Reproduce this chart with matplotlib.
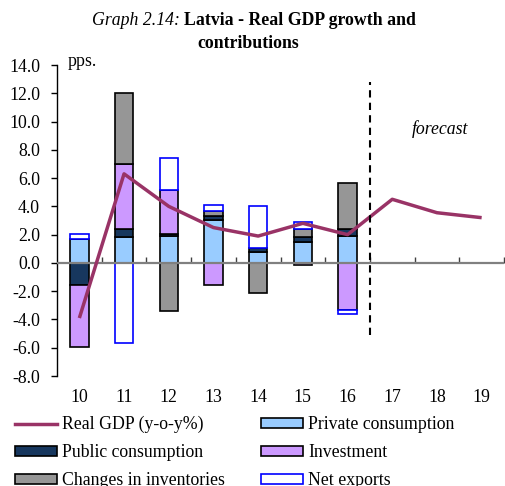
import numpy as np
import matplotlib
matplotlib.use("Agg")
import matplotlib.pyplot as plt
from matplotlib.lines import Line2D
from matplotlib.patches import Patch
from matplotlib.ticker import FormatStrFormatter

FS = 12.8
plt.rcParams['font.family'] = ['Liberation Serif', 'DejaVu Serif']
plt.rcParams['font.size'] = FS

# ---- data ----
years = ['10', '11', '12', '13', '14', '15', '16', '17', '18', '19']
gdp = [-3.9, 6.3, 4.0, 2.5, 1.9, 2.8, 2.0, 4.5, 3.55, 3.2]
bar_years = ['10', '11', '12', '13', '14', '15', '16']
private = [1.67, 1.84, 1.93, 3.05, 0.80, 1.50, 1.93]
public = [-1.58, 0.59, 0.10, 0.25, 0.25, 0.35, 0.49]
investment = [-4.40, 4.59, 3.10, -1.53, 0.00, -0.12, -3.34]
inventories = [0.00, 4.99, -3.39, 0.35, -2.10, 0.55, 3.22]
net_exports = [0.35, -5.69, 2.28, 0.42, 2.95, 0.50, -0.28]
yticks = [-8, -6, -4, -2, 0, 2, 4, 6, 8, 10, 12, 14]

series = [
    ('Private consumption', private, '#99CCFF', 'black'),
    ('Public consumption', public, '#17375E', 'black'),
    ('Investment', investment, '#CC99FF', 'black'),
    ('Changes in inventories', inventories, '#969696', 'black'),
    ('Net exports', net_exports, 'white', '#0000FF'),
]
GDP_COLOR = '#993366'

W, H = 505, 486
fig = plt.figure(figsize=(W / 100, H / 100), dpi=100)
ax = fig.add_axes([57 / W, 1 - 376 / H, (504 - 57) / W, (376 - 65) / H])

x_all = np.arange(len(years)) + 10
x_bar = np.arange(len(bar_years)) + 10
bw = 0.41
pos_b = np.zeros(len(bar_years))
neg_b = np.zeros(len(bar_years))
for name, vals, fc, ec in series:
    v = np.array(vals, dtype=float)
    bottom = np.where(v >= 0, pos_b, neg_b)
    ax.bar(x_bar, v, bw, bottom=bottom, color=fc, edgecolor=ec,
           linewidth=1.2, zorder=3)
    pos_b = pos_b + np.where(v >= 0, v, 0)
    neg_b = neg_b + np.where(v < 0, v, 0)

ax.plot(x_all, gdp, color=GDP_COLOR, lw=2.5, zorder=5, solid_capstyle='butt')

ax.set_xlim(9.5, 19.5)
ax.set_ylim(-8, 14)
ax.set_yticks(yticks)
ax.yaxis.set_major_formatter(FormatStrFormatter('%.1f'))
ax.set_xticks(x_all)
ax.set_xticklabels(years)
ax.tick_params(axis='x', length=0, pad=9.5, labelsize=FS)
ax.tick_params(axis='y', direction='out', length=4, width=1, pad=8.3, labelsize=FS)

for s in ['top', 'right', 'bottom']:
    ax.spines[s].set_visible(False)
ax.spines['left'].set_linewidth(1.0)

# zero axis line with small upward ticks at category boundaries
ax.axhline(0, color='#808080', lw=1.6, zorder=4)
sec = ax.secondary_xaxis(8 / 22)
sec.set_xticks(np.arange(10.5, 20.0, 1.0))
sec.set_xticklabels([])
sec.tick_params(direction='in', length=4, width=1, color='#404040')
sec.spines['bottom'].set_visible(False)

# forecast divider
ax.vlines(16.5, -5.1, 12.8, colors='black', linestyles=(0, (3.5, 2.5)), lw=1.5, zorder=6)
ax.text(18.06, 9.45, 'forecast', style='italic', ha='center', va='center', fontsize=FS)

# pps. label
fig.text(68 / W, 1 - 62 / H, 'pps.', ha='left', va='center', fontsize=FS)

# title
t1 = fig.text(92 / W, 1 - 25 / H, 'Graph 2.14: ', style='italic', ha='left',
              va='baseline', fontsize=FS)
ax.annotate('Latvia - Real GDP growth and', xy=(1, 0), xycoords=t1,
            ha='left', va='bottom', fontweight='bold', fontsize=FS,
            annotation_clip=False)
fig.text(248 / W, 1 - 43 / H, 'contributions', fontweight='bold', ha='center',
         va='center', fontsize=FS)

# legend
handles = [
    Line2D([], [], color=GDP_COLOR, lw=2.5),
    Patch(facecolor=series[1][2], edgecolor='black', lw=1.2),
    Patch(facecolor=series[3][2], edgecolor='black', lw=1.2),
    Patch(facecolor=series[0][2], edgecolor='black', lw=1.2),
    Patch(facecolor=series[2][2], edgecolor='black', lw=1.2),
    Patch(facecolor='white', edgecolor='#0000FF', lw=1.2),
]
labels = ['Real GDP (y-o-y%)', 'Public consumption', 'Changes in inventories',
          'Private consumption', 'Investment', 'Net exports']
fig.legend(handles, labels, ncol=2, loc='upper left',
           bbox_to_anchor=(15 / W, 1 - 416 / H), frameon=False, fontsize=FS,
           handlelength=2.36, handleheight=0.45, handletextpad=0.3,
           labelspacing=0.62, columnspacing=2.0, borderpad=0, borderaxespad=0)

fig.savefig('out.png', dpi=100)
